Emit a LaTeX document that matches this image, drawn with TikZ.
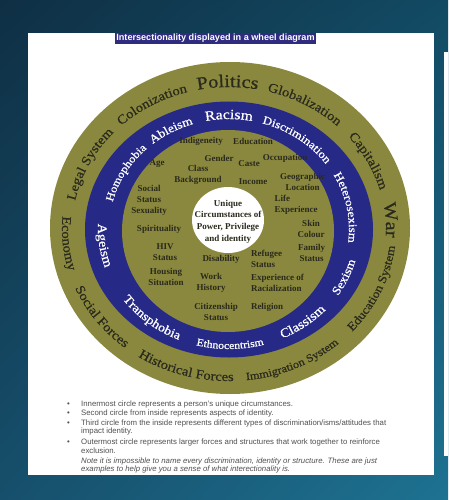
\documentclass[tikz,border=0pt]{standalone}
\usepackage{fontspec}
\setmainfont{Liberation Serif}
\newfontfamily\ringfont[FakeStretch=1.12,FakeBold=0.6]{Liberation Serif}
\newfontfamily\capsans{Liberation Sans}
\usetikzlibrary{decorations.text,shadings}
\definecolor{bgUL}{HTML}{0F2F44}
\definecolor{bgUR}{HTML}{124A63}
\definecolor{bgLL}{HTML}{164F6B}
\definecolor{bgLR}{HTML}{1E7292}
\definecolor{olive}{RGB}{138,136,62}
\definecolor{ringblue}{RGB}{38,42,134}
\definecolor{titlebg}{HTML}{2F2C80}
\definecolor{darktext}{HTML}{2A2A1C}
\definecolor{notegray}{HTML}{505050}
% #1 rx, #2 ry, #3 start angle, #4 end angle, #5 size, #6 colour, #7 text
\newcommand{\RingArc}[7]{%
  \path[shift={(229,-229)},decorate,decoration={text along path,text align=center,
    text={|\ringfont\fontsize{#5}{#5}\selectfont\color{#6}|#7}}]
    ({#1*cos(#3)},{#2*sin(#3)}) arc[start angle=#3,end angle=#4,x radius=#1,y radius=#2];}
% top group: letters outward, clockwise; bottom group: letters inward
\newcommand{\OuterTop}[3]{\RingArc{157}{142}{#1+35}{#1-35}{#2}{darktext}{#3}}
\newcommand{\OuterBot}[3]{\RingArc{167}{152}{#1-35}{#1+35}{#2}{darktext}{#3}}
\newcommand{\BlueTop}[3]{\RingArc{120}{110}{#1+35}{#1-35}{#2}{white}{#3}}
\newcommand{\BlueBot}[3]{\RingArc{131}{120}{#1-35}{#1+35}{#2}{white}{#3}}
\tikzset{
  ident/.style={font=\bfseries\fontsize{9}{11}\selectfont,text=darktext,inner sep=0pt,align=center},
  identl/.style={ident,align=left,anchor=west},
  bullettext/.style={font=\capsans\fontsize{7.8}{8}\selectfont,text=notegray,inner sep=0pt,anchor=base west},
  notetext/.style={bullettext,font=\capsans\itshape\fontsize{7.8}{8}\selectfont},
}
\begin{document}
\begin{tikzpicture}[x=1pt,y=1pt]
\useasboundingbox (0,0) rectangle (448,-500);
\shade[upper left=bgUL,upper right=bgUR,lower left=bgLL,lower right=bgLR] (0,0) rectangle (448,-500);
\fill[white] (28,-33) rectangle (434,-475);
\fill[white] (444,-52) rectangle (448,-456);
% title
\node[fill=titlebg,text=white,font=\capsans\bfseries\fontsize{9.1}{10}\selectfont,inner xsep=1pt,inner ysep=1.5pt] (title) at (215.5,-38.5) {Intersectionality displayed in a wheel diagram};
% wheel
\fill[olive] (230,-228) ellipse[x radius=180,y radius=166];
\fill[ringblue] (229,-229.5) ellipse[x radius=144,y radius=128];
\fill[olive] (228,-231) ellipse[x radius=106,y radius=101];
\fill[white] (228,-220) ellipse[x radius=36,y radius=33];
% outer ring
\OuterTop{90.5}{18}{Politics}
\OuterTop{60.5}{13}{Globalization}
\OuterTop{27.5}{13}{Capitalism}
\OuterTop{3.5}{18}{War}
\OuterTop{153.5}{13}{Legal System}
\OuterTop{120}{13}{Colonization}
\OuterBot{-24}{12}{Education System}
\OuterBot{-66}{11}{Immigration System}
\OuterBot{254}{13}{Historical Forces}
\OuterBot{216.5}{13}{Social Forces}
\OuterBot{185.5}{13}{Economy}
% blue ring
\BlueTop{90}{14}{Racism}
\BlueTop{54.5}{11.5}{Discrimination}
\BlueTop{11}{11.5}{Heterosexism}
\BlueTop{150}{11}{Homophobia}
\BlueTop{119}{12}{Ableism}
\BlueBot{-24}{12}{Sexism}
\BlueBot{-53.5}{13}{Classism}
\BlueBot{270.5}{10.5}{Ethnocentrism}
\BlueBot{231}{12.5}{Transphobia}
\BlueBot{188}{13}{Ageism}
% centre
\node[ident,font=\bfseries\fontsize{9}{11.7}\selectfont] (core) at (228,-221.5) {Unique\\Circumstances of\\Power, Privilege\\and identity};
% identities
\node[ident] (i1) at (201,-141) {Indigeneity};
\node[ident] (i2) at (253,-141) {Education};
\node[ident] (i3) at (219,-158) {Gender};
\node[ident] (i4) at (249,-164) {Caste};
\node[ident] (i5) at (285,-158) {Occupation};
\node[ident] (i6) at (157,-164) {Age};
\node[ident] (i7) at (198,-175) {Class\\Background};
\node[ident] (i8) at (253,-182) {Income};
\node[ident] (i9) at (302.5,-181.5) {Geographic\\Location};
\node[ident] (i10) at (149,-193.5) {Social\\Status};
\node[ident] (i11) at (149,-211) {Sexuality};
\node[identl] (i12) at (274.5,-205) {Life\\Experience};
\node[ident] (i13) at (159,-229) {Spirituality};
\node[ident] (i14) at (311,-228.5) {Skin\\Colour};
\node[ident] (i15) at (165,-252.5) {HIV\\Status};
\node[ident] (i16) at (221,-259) {Disability};
\node[identl] (i17) at (251,-259) {Refugee\\Status};
\node[ident] (i18) at (311.5,-252.5) {Family\\Status};
\node[ident] (i19) at (166,-276.5) {Housing\\Situation};
\node[ident] (i20) at (211,-283) {Work\\History};
\node[identl] (i21) at (251,-282.5) {Experience of\\Racialization};
\node[ident] (i22) at (216,-312) {Citizenship\\Status};
\node[ident] (i23) at (267,-307) {Religion};
% notes
\node[bullettext] (b1) at (67,-406.5) {•};
\node[bullettext] (b2) at (67,-415.5) {•};
\node[bullettext] (b3) at (67,-425) {•};
\node[bullettext] (b4) at (67,-444.5) {•};
\node[bullettext] (n1) at (81,-406.5) {Innermost circle represents a person’s unique circumstances.};
\node[bullettext] (n2) at (81,-415.5) {Second circle from inside represents aspects of identity.};
\node[bullettext] (n3) at (81,-425) {Third circle from the inside represents different types of discrimination/isms/attitudes that};
\node[bullettext] (n4) at (81,-433.5) {impact identity.};
\node[bullettext] (n5) at (81,-444.5) {Outermost circle represents larger forces and structures that work together to reinforce};
\node[bullettext] (n6) at (81,-453.5) {exclusion.};
\node[notetext] (n7) at (81,-463) {Note it is impossible to name every discrimination, identity or structure. These are just};
\node[notetext] (n8) at (81,-471.5) {examples to help give you a sense of what interectionality is.};
\end{tikzpicture}
\end{document}
